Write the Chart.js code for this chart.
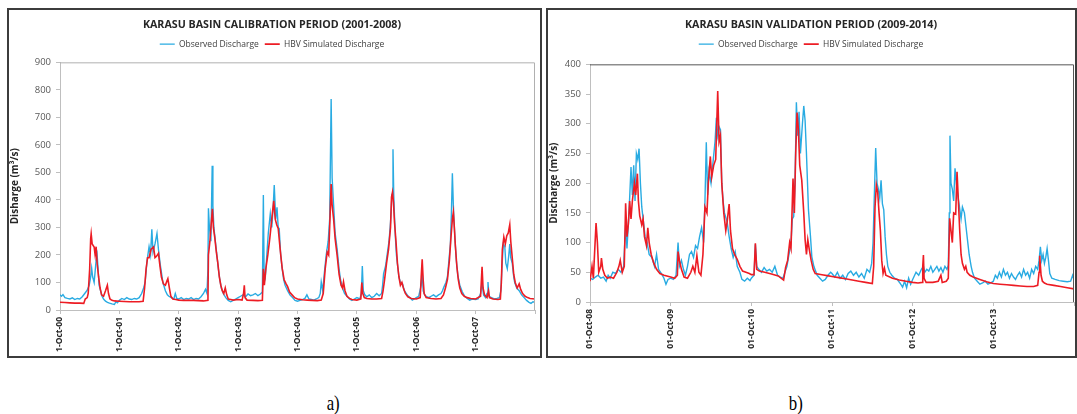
<!DOCTYPE html>
<html>
<head>
<meta charset="utf-8">
<script src="https://cdn.jsdelivr.net/npm/chart.js@4.4.1/dist/chart.umd.min.js"></script>
<style>
  html, body { margin: 0; padding: 0; background: #fff; }
  body { width: 1077px; height: 414px; position: relative; overflow: hidden; font-family: 'Open Sans', sans-serif; }
  .panel { position: absolute; top: 8px; height: 346px; border: 2px solid #3c3c3c; background: #fff; }
  #panelA { left: 7px; width: 531px; }
  #panelB { left: 546px; width: 527px; }
  .panel canvas { display: block; }
  .cap { position: absolute; top: 391px; font-family: 'Liberation Serif', serif; font-size: 21px; color: #000; transform: scaleX(0.8); }
</style>
</head>
<body>
<div class="panel" id="panelA"><canvas id="chartA" width="531" height="346"></canvas></div>
<div class="panel" id="panelB"><canvas id="chartB" width="527" height="346"></canvas></div>
<div class="cap" style="left:325px">a)</div>
<div class="cap" style="left:787px">b)</div>
<script>
// x = months since 1 October of the first year, y = discharge (m3/s)

// a) calibration 2001-2008
const obsA = [
  [0,55],[0.3,50],[0.6,56],[1,45],[1.5,42],[2,40],[2.5,44],[3,38],[3.5,42],[4,40],[4.5,48],[5,60],[5.5,72],[5.9,90],
  [6.2,120],[6.4,152],[6.6,120],[6.9,100],[7.1,140],[7.3,180],[7.5,200],[7.7,150],[7.9,90],[8.2,70],[8.5,50],[8.8,40],
  [9.2,32],[9.6,28],[10,25],[10.5,22],[11,20],[11.3,30],[11.6,26],[12,35],
  [12.5,42],[13,38],[13.5,45],[14,40],[14.5,38],[15,42],[15.5,40],[16,45],[16.5,60],[16.9,80],[17.2,100],[17.6,180],
  [18.0,230],[18.3,200],[18.56,293],[18.8,210],[19.2,240],[19.6,278],[19.9,220],[20.3,160],[20.8,100],[21.3,70],
  [21.7,55],[22,50],[22.5,45],[23,40],[23.3,60],[23.6,42],[24,40],
  [24.5,45],[25,38],[25.5,42],[26,40],[26.5,45],[27,38],[27.5,42],[28,40],[28.5,48],[29,60],[29.4,75],[29.7,60],
  [29.9,150],[30.0,370],[30.2,300],[30.5,250],[30.76,524],[30.9,380],[31.1,300],[31.4,250],[31.7,200],[32.0,150],
  [32.3,110],[32.6,80],[33,60],[33.5,45],[34,35],[34.5,30],[35,35],[35.5,40],[36,45],
  [36.5,50],[37,55],[37.5,48],[38,58],[38.5,52],[39,55],[39.5,60],[40,52],[40.5,58],[40.9,65],[41.1,418],[41.25,140],
  [41.5,120],[41.8,200],[42.1,280],[42.5,350],[42.8,300],[43.1,380],[43.3,454],[43.6,330],[43.86,373],[44.1,300],
  [44.3,296],[44.6,200],[44.9,152],[45.2,110],[45.5,90],[46,70],[46.5,54],[47,45],[47.5,35],[48,32],
  [48.5,35],[49,38],[49.5,42],[49.9,55],[50.3,40],[50.8,38],[51.3,36],[51.8,40],[52.3,45],[52.6,60],[52.8,102],
  [53.1,70],[53.4,130],[53.8,200],[54.2,250],[54.5,330],[54.8,767],[55.0,480],[55.3,380],[55.6,280],[56.0,223],
  [56.4,150],[56.7,110],[57.1,80],[57.5,60],[58,50],[58.5,40],[59,35],[59.5,40],[60,45],
  [60.6,40],[60.9,60],[61.1,160],[61.3,70],[61.6,55],[62,48],[62.5,55],[63,45],[63.5,50],[64,60],[64.5,52],[65,60],
  [65.2,90],[65.4,132],[65.8,160],[66.1,199],[66.5,250],[66.8,319],[67.1,420],[67.3,584],[67.45,420],[67.6,343],
  [67.8,260],[68.0,199],[68.3,150],[68.5,120],[68.8,100],[69.2,96],[69.6,70],[70.2,54],[70.7,45],[71.2,36],[71.6,40],[72,45],
  [72.5,50],[73.0,90],[73.2,140],[73.4,70],[73.7,55],[74,50],[74.5,45],[75,50],[75.5,55],[76,48],[76.5,55],[77,60],
  [77.3,70],[77.6,84],[78.0,100],[78.3,120],[78.6,180],[78.9,240],[79.1,350],[79.3,497],[79.5,380],[79.7,300],
  [79.9,235],[80.1,180],[80.4,127],[80.8,90],[81.3,66],[81.8,50],[82.3,42],[82.8,36],[83.3,40],[84,38],
  [84.5,40],[85.0,60],[85.3,100],[85.6,55],[86.0,45],[86.3,60],[86.5,102],[86.7,50],[87.2,45],[87.8,40],[88.3,42],
  [88.8,45],[89.1,70],[89.4,180],[89.6,240],[89.9,230],[90.1,170],[90.4,150],[90.7,199],[90.9,240],[91.1,190],
  [91.4,170],[91.7,120],[91.9,100],[92.3,80],[92.8,70],[93.3,55],[93.8,45],[94.3,35],[94.8,28],[95.2,24],[95.6,30],[96,28]
];
const simA = [
  [0,28],[1,27],[2,26],[3,25],[4,25],[4.8,24],[5.1,40],[5.5,45],[5.7,60],[6.0,150],[6.2,260],[6.3,277],[6.5,240],
  [6.9,229],[7.1,200],[7.3,230],[7.5,170],[7.8,120],[8.1,80],[8.4,55],[8.8,50],[9.2,70],[9.57,90],[9.8,60],[10.1,40],
  [10.5,35],[11,33],[12,32],
  [13,31],[14,30],[15,30],[16,30],[16.8,32],[17.1,80],[17.4,150],[17.7,190],[18.0,190],[18.4,220],[18.9,229],[19.2,190],
  [19.5,195],[19.9,206],[20.2,160],[20.5,120],[20.9,95],[21.3,90],[21.6,105],[21.8,114],[22.1,80],[22.4,50],[22.8,40],
  [23.4,38],[24,36],
  [25,35],[26,35],[27,35],[28,34],[29,33],[29.9,35],[30.0,200],[30.3,250],[30.5,300],[30.8,368],[31.0,300],[31.3,260],
  [31.6,210],[31.9,170],[32.2,120],[32.5,90],[32.8,70],[33.1,60],[33.4,80],[33.7,55],[34,40],[34.5,38],[35,36],[36,38],
  [36.8,36],[37.1,60],[37.25,90],[37.4,45],[37.8,36],[39,35],[40,34],[40.9,35],[41.1,150],[41.3,90],[41.6,150],
  [42.0,200],[42.4,260],[42.8,330],[43.2,397],[43.5,330],[43.8,310],[44.1,296],[44.5,220],[44.9,152],[45.3,110],
  [45.7,95],[46.0,85],[46.4,65],[46.9,55],[47.4,45],[48,40],
  [49,37],[50,36],[51,35],[52,34],[52.8,36],[53.2,60],[53.6,150],[54.0,211],[54.3,200],[54.6,350],[54.8,458],[55.0,380],
  [55.3,330],[55.6,260],[56.0,200],[56.4,130],[56.8,90],[57.1,80],[57.3,102],[57.6,70],[58,50],[58.5,42],[59,38],[60,36],
  [60.8,40],[61.0,100],[61.2,60],[61.5,45],[62,42],[63,40],[64,40],[65,42],[65.3,70],[65.6,110],[66.0,170],[66.4,220],
  [66.8,300],[67.0,410],[67.2,428],[67.4,390],[67.6,320],[67.9,250],[68.2,170],[68.5,120],[68.8,90],[69.1,100],
  [69.4,80],[69.8,60],[70.3,48],[71,42],[72,40],
  [72.8,45],[73.0,120],[73.2,184],[73.4,110],[73.6,60],[74,45],[75,42],[76,40],[77,42],[77.5,55],[77.9,80],[78.3,110],
  [78.7,180],[79.0,260],[79.3,330],[79.5,355],[79.7,300],[79.9,235],[80.2,160],[80.5,110],[80.8,80],[81.2,60],
  [81.7,50],[82.3,45],[83,42],[84,40],
  [85.0,50],[85.3,157],[85.5,80],[85.8,55],[86.3,45],[86.6,70],[86.8,45],[87.5,40],[88.5,38],[89.0,40],[89.2,100],
  [89.4,220],[89.7,265],[90.0,240],[90.3,270],[90.6,280],[90.9,310],[91.1,250],[91.4,190],[91.7,130],[92.0,100],
  [92.4,80],[92.8,95],[93.1,75],[93.5,60],[94,50],[94.5,45],[95,42],[96,40]
];

// b) validation 2009-2014
const obsB = [
  [0,40],[0.4,38],[0.8,42],[1.2,45],[1.6,40],[2.0,42],[2.4,35],[2.7,45],[3.0,40],[3.4,50],[3.8,48],[4.2,55],[4.6,50],
  [5.0,60],[5.3,130],[5.5,90],[5.8,150],[6.1,227],[6.3,180],[6.5,230],[6.7,170],[6.9,250],[7.1,240],[7.3,258],[7.5,200],
  [7.7,160],[7.9,140],[8.2,110],[8.5,100],[8.8,80],[9.2,75],[9.6,60],[9.9,80],[10.2,55],[10.6,48],[11.0,40],[11.3,30],
  [11.6,38],[12.0,40],
  [12.4,38],[12.8,45],[13.1,100],[13.3,60],[13.6,70],[13.9,55],[14.2,45],[14.5,60],[14.8,80],[15.1,85],[15.4,75],
  [15.7,95],[16.0,90],[16.3,110],[16.6,125],[16.9,100],[17.1,170],[17.3,269],[17.5,180],[17.7,220],[18.0,200],
  [18.3,235],[18.6,270],[18.8,310],[19.0,280],[19.2,295],[19.4,290],[19.6,200],[19.8,170],[20.0,150],[20.4,135],
  [20.7,110],[21.0,90],[21.3,75],[21.6,85],[21.9,60],[22.3,50],[22.6,38],[23.0,35],[23.4,40],[23.8,36],[24.0,40],
  [24.4,45],[24.6,97],[24.8,60],[25.1,55],[25.5,50],[25.9,58],[26.3,52],[26.7,55],[27.1,50],[27.5,60],[27.9,45],
  [28.3,42],[28.7,40],[29.0,50],[29.3,60],[29.6,80],[29.9,100],[30.1,140],[30.3,144],[30.5,200],[30.7,336],[30.9,280],
  [31.1,320],[31.3,250],[31.6,300],[31.8,330],[32.0,305],[32.2,250],[32.5,155],[32.8,110],[33.0,76],[33.3,60],
  [33.5,54],[33.8,45],[34.2,40],[34.6,35],[35.0,38],[35.4,45],[35.8,50],[36.0,48],
  [36.4,42],[36.8,50],[37.2,40],[37.6,45],[38.0,38],[38.4,48],[38.8,52],[39.2,45],[39.6,50],[40.0,42],[40.4,48],
  [40.8,40],[41.2,55],[41.6,50],[41.9,65],[42.1,99],[42.3,180],[42.5,259],[42.7,200],[42.9,190],[43.1,175],[43.3,205],
  [43.5,165],[43.7,155],[43.9,110],[44.1,80],[44.3,60],[44.6,50],[44.9,45],[45.3,40],[45.7,38],[46.1,32],[46.5,25],
  [46.8,35],[47.1,24],[47.4,40],[47.7,30],[48.0,38],
  [48.5,50],[48.9,45],[49.3,55],[49.6,60],[49.8,50],[50.1,55],[50.4,52],[50.7,60],[51.0,50],[51.3,55],[51.6,60],
  [51.9,52],[52.2,58],[52.5,50],[52.8,60],[53.1,55],[53.3,62],[53.45,150],[53.55,280],[53.7,200],[53.9,190],[54.1,170],
  [54.3,225],[54.5,200],[54.7,180],[54.9,165],[55.2,140],[55.4,160],[55.7,150],[55.9,130],[56.2,100],[56.4,80],
  [56.7,60],[56.9,50],[57.2,40],[57.6,35],[58.0,30],[58.4,32],[58.8,35],[59.2,30],[59.6,32],[60.0,35],
  [60.3,45],[60.6,40],[60.9,50],[61.2,42],[61.5,55],[61.8,45],[62.1,50],[62.4,40],[62.7,48],[63.0,42],[63.3,38],
  [63.6,45],[63.9,50],[64.2,42],[64.5,55],[64.8,45],[65.1,50],[65.4,40],[65.7,55],[66.0,48],[66.3,60],[66.6,55],
  [66.8,70],[67.0,93],[67.2,70],[67.4,80],[67.6,65],[67.8,75],[68.0,90],[68.2,70],[68.4,48],[68.7,40],[69.2,38],
  [69.8,36],[70.4,35],[71.0,34],[71.5,35],[71.8,45],[72.0,38]
];
const simB = [
  [0,35],[0.3,60],[0.5,40],[0.8,110],[0.9,133],[1.1,100],[1.3,50],[1.6,60],[1.7,74],[1.9,55],[2.2,45],[2.6,40],
  [3.0,42],[3.5,40],[4.0,50],[4.3,60],[4.5,70],[4.8,50],[5.1,60],[5.3,166],[5.5,110],[5.7,130],[5.9,170],[6.1,140],
  [6.3,170],[6.6,200],[6.8,180],[7.05,216],[7.2,170],[7.4,145],[7.7,130],[7.9,140],[8.1,110],[8.4,95],[8.6,125],
  [8.8,100],[9.1,80],[9.5,65],[9.9,55],[10.4,48],[11,45],[12,42],
  [12.6,40],[13.0,45],[13.1,85],[13.3,70],[13.6,55],[14.0,42],[14.5,40],[15.0,50],[15.3,60],[15.6,50],[15.9,78],
  [16.2,50],[16.5,45],[16.8,80],[17.1,160],[17.4,150],[17.6,200],[17.9,245],[18.1,210],[18.4,230],[18.7,240],
  [19.0,355],[19.2,270],[19.4,280],[19.6,200],[19.9,150],[20.2,120],[20.4,135],[20.7,165],[20.9,120],[21.2,90],
  [21.5,80],[21.9,72],[22.3,60],[22.7,52],[23.2,50],[23.7,48],[24,46],
  [24.4,46],[24.6,99],[24.8,55],[25.2,52],[26,50],[27,47],[28,44],[28.8,37],[29.1,58],[29.4,70],[29.7,100],[29.9,90],
  [30.2,208],[30.4,150],[30.6,250],[30.8,319],[31.0,290],[31.2,230],[31.5,205],[31.8,150],[32.0,105],[32.2,80],
  [32.4,105],[32.6,90],[32.9,70],[33.2,55],[33.5,48],[34.5,46],[35.5,44],[36,43],
  [37,41],[38,39],[39,37],[40,35],[41,33],[42,31],[42.2,60],[42.4,160],[42.6,197],[42.8,185],[43.0,150],[43.2,120],
  [43.4,70],[43.6,48],[43.8,57],[44.0,45],[45,40],[46,37],[47,35],[48,33],
  [48.8,32],[49.4,33],[49.5,60],[49.6,79],[49.7,40],[50,33],[51,33],[51.8,35],[52.2,45],[52.4,33],[53,35],[53.3,40],
  [53.5,141],[53.7,120],[53.9,100],[54.1,150],[54.4,148],[54.6,219],[54.8,170],[55.0,120],[55.2,80],[55.4,65],
  [55.7,55],[55.9,60],[56.1,50],[56.5,45],[57,42],[58,38],[59,34],[60,31],
  [61,30],[62,29],[63,28],[64,27],[65,26],[66,26],[66.6,28],[66.8,50],[66.9,78],[67.1,45],[67.3,35],[67.6,32],
  [68,30],[69,28],[70,26],[71,24],[72,22]
];

const yearsA = ['00', '01', '02', '03', '04', '05', '06', '07'];
const yearsB = ['08', '09', '10', '11', '12', '13'];

const FONT = "'Open Sans', sans-serif";
const BLUE = '#29abe2';
const RED = '#ed1c24';

// cadre du chartArea (haut + droite)
const frame = {
  id: 'frame',
  afterDatasetsDraw(chart, args, opts) {
    const { ctx, chartArea: a } = chart;
    ctx.save();
    ctx.strokeStyle = opts.color;
    ctx.lineWidth = 1;
    ctx.beginPath();
    ctx.moveTo(a.left, a.top + 0.5);
    ctx.lineTo(a.right - 0.5, a.top + 0.5);
    ctx.lineTo(a.right - 0.5, a.bottom);
    ctx.stroke();
    ctx.restore();
  }
};

// espace supplémentaire sous la légende
const legendGap = {
  id: 'legendGap',
  beforeInit(chart, args, opts) {
    const fit = chart.legend.fit;
    chart.legend.fit = function () {
      fit.call(this);
      this.height += opts.extra;
    };
  }
};

function makeChart(id, cfg) {
  const toXY = (arr) => arr.map(([x, y]) => ({ x, y }));
  return new Chart(document.getElementById(id), {
    type: 'line',
    data: {
      datasets: [
        { label: 'Observed Discharge', data: toXY(cfg.obs), borderColor: BLUE, backgroundColor: BLUE,
          borderWidth: 1.4, pointRadius: 0, tension: 0, order: 2 },
        { label: 'HBV Simulated Discharge', data: toXY(cfg.sim), borderColor: RED, backgroundColor: RED,
          borderWidth: 1.6, pointRadius: 0, tension: 0, order: 1 },
      ],
    },
    options: {
      responsive: false,
      animation: false,
      events: [],
      layout: { padding: { top: 0, right: cfg.padRight, left: 0, bottom: 0 } },
      plugins: {
        title: {
          display: true, text: cfg.title, color: '#262626',
          font: { family: FONT, size: 10.7, weight: 'bold' },
          padding: { top: 9, bottom: 2 },
        },
        legend: {
          labels: {
            usePointStyle: true, pointStyle: 'line', pointStyleWidth: 15,
            color: '#404040', font: { family: FONT, size: 8.5 }, padding: 6,
            sort: (a, b) => a.datasetIndex - b.datasetIndex,
          },
        },
        legendGap: { extra: cfg.legendExtra },
        tooltip: { enabled: false },
        frame: { color: cfg.frameColor },
      },
      scales: {
        x: {
          type: 'linear', min: 0, max: cfg.max,
          afterFit: (s) => { s.height = cfg.xHeight; s.paddingLeft = 0; s.paddingRight = 0; },
          afterBuildTicks: (s) => {
            s.ticks = [];
            for (let v = 0; v <= cfg.max; v += 12) s.ticks.push({ value: v });
          },
          grid: { drawOnChartArea: false, drawTicks: true, tickLength: 4, color: '#bfbfbf' },
          border: { color: '#bfbfbf' },
          ticks: {
            minRotation: 90, maxRotation: 90, padding: 3, color: '#262626',
            font: { family: FONT, size: 8.5, weight: 'bold' },
            callback: (v) => {
              const i = v / 12;
              return i < cfg.years.length ? cfg.prefix + '-Oct-' + cfg.years[i] : '';
            },
          },
        },
        y: {
          min: 0, max: cfg.yMax,
          afterFit: (s) => { s.width = cfg.yWidth; },
          grid: { drawOnChartArea: false, drawTicks: true, tickLength: 4, color: '#bfbfbf' },
          border: { color: '#bfbfbf' },
          title: {
            display: true, text: cfg.yTitle, color: '#262626',
            font: { family: FONT, size: 10, weight: 'bold' }, padding: { top: 0, bottom: 2 },
          },
          ticks: { stepSize: cfg.yStep, color: '#595959', font: { family: FONT, size: 9.5 }, padding: 5 },
        },
      },
    },
    plugins: [frame, legendGap],
  });
}

makeChart('chartA', {
  obs: obsA, sim: simA, max: 96, years: yearsA, prefix: '1',
  title: 'KARASU BASIN CALIBRATION PERIOD (2001-2008)',
  yTitle: 'Disharge (m³/s)', yMax: 900, yStep: 100,
  yWidth: 51, xHeight: 46, legendExtra: 4, padRight: 5, frameColor: '#b0b0b0',
});

makeChart('chartB', {
  obs: obsB, sim: simB, max: 72, years: yearsB, prefix: '01',
  title: 'KARASU BASIN VALIDATION PERIOD (2009-2014)',
  yTitle: 'Discharge (m³/s)', yMax: 400, yStep: 50,
  yWidth: 42, xHeight: 54, legendExtra: 6, padRight: 1, frameColor: '#555555',
});
</script>
</body>
</html>
